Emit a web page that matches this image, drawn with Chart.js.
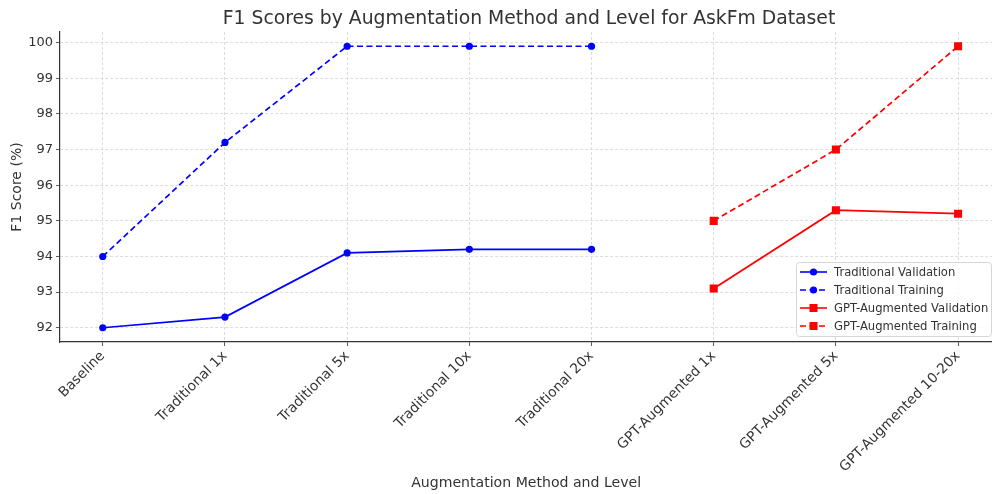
<!DOCTYPE html>
<html>
<head>
<meta charset="utf-8">
<script src="https://cdn.jsdelivr.net/npm/chart.js@4.4.0/dist/chart.umd.min.js"></script>
<style>
    html, body { margin: 0; padding: 0; background: #fff; overflow: hidden; }
    #wrap { width: 992px; height: 494px; overflow: hidden; }
</style>
</head>
<body>
<div id="wrap"><canvas id="f1Chart" width="998" height="494"></canvas></div>
<script>
// Dados
const categories = ['Baseline', 'Traditional 1x', 'Traditional 5x', 'Traditional 10x', 'Traditional 20x',
    'GPT-Augmented 1x', 'GPT-Augmented 5x', 'GPT-Augmented 10-20x'];
const tradValidation = [92.0, 92.3, 94.1, 94.2, 94.2, null, null, null];
const tradTraining = [94.0, 97.2, 99.9, 99.9, 99.9, null, null, null];
const gptValidation = [null, null, null, null, null, 93.1, 95.3, 95.2];
const gptTraining = [null, null, null, null, null, 95.0, 97.0, 99.9];
const yTicks = [92, 93, 94, 95, 96, 97, 98, 99, 100];
const chartTitle = 'F1 Scores by Augmentation Method and Level for AskFm Dataset';

function toPoints(values) {
    return values.map((y, i) => ({ x: i, y: y })).filter(p => p.y !== null);
}

Chart.defaults.font.family = "'DejaVu Sans', sans-serif";
Chart.defaults.color = '#333';

// Título centrado sobre a área do gráfico + legenda no canto inferior direito
const innerLegend = {
    id: 'innerLegend',
    afterDraw(chart) {
        const ctx = chart.ctx;
        const area = chart.chartArea;
        ctx.save();
        ctx.font = "18.8px 'DejaVu Sans'";
        ctx.fillStyle = '#333';
        ctx.textAlign = 'center';
        ctx.textBaseline = 'middle';
        ctx.fillText(chartTitle, 529, 19);

        const w = 195, h = 74;
        const left = 796;
        const top = area.bottom - h - 6;
        ctx.textAlign = 'left';
        ctx.fillStyle = 'rgba(255,255,255,0.85)';
        ctx.strokeStyle = '#d6d6d6';
        ctx.lineWidth = 1;
        ctx.beginPath();
        ctx.roundRect(left + 0.5, top + 0.5, w, h, 3);
        ctx.fill();
        ctx.stroke();
        ctx.font = "11.6px 'DejaVu Sans'";
        chart.data.datasets.forEach((ds, i) => {
            const y = top + 10 + i * 18;
            const x0 = left + 4;
            ctx.strokeStyle = ds.borderColor;
            ctx.lineWidth = 1.6;
            ctx.setLineDash(ds.borderDash || []);
            ctx.beginPath();
            ctx.moveTo(x0, y);
            ctx.lineTo(x0 + 27, y);
            ctx.stroke();
            ctx.setLineDash([]);
            ctx.fillStyle = ds.borderColor;
            if (ds.pointStyle === 'rect') {
                ctx.fillRect(x0 + 13.5 - 4, y - 4, 8, 8);
            } else {
                ctx.beginPath();
                ctx.arc(x0 + 13.5, y, 3.6, 0, Math.PI * 2);
                ctx.fill();
            }
            ctx.fillStyle = '#333';
            ctx.fillText(ds.label, x0 + 34, y + 0.5);
        });
        ctx.restore();
    }
};

const ctx = document.getElementById('f1Chart').getContext('2d');
new Chart(ctx, {
    type: 'line',
    data: {
        datasets: [
            {
                label: 'Traditional Validation',
                data: toPoints(tradValidation),
                borderColor: '#0000ff',
                backgroundColor: '#0000ff',
                borderWidth: 1.7,
                pointStyle: 'circle',
                pointRadius: 3.6,
                pointBorderWidth: 0
            },
            {
                label: 'Traditional Training',
                data: toPoints(tradTraining),
                borderColor: '#0000ff',
                backgroundColor: '#0000ff',
                borderWidth: 1.7,
                borderDash: [6, 3.5],
                pointStyle: 'circle',
                pointRadius: 3.6,
                pointBorderWidth: 0
            },
            {
                label: 'GPT-Augmented Validation',
                data: toPoints(gptValidation),
                borderColor: '#ff0000',
                backgroundColor: '#ff0000',
                borderWidth: 1.7,
                pointStyle: 'rect',
                pointRadius: 5.7,
                pointBorderWidth: 0
            },
            {
                label: 'GPT-Augmented Training',
                data: toPoints(gptTraining),
                borderColor: '#ff0000',
                backgroundColor: '#ff0000',
                borderWidth: 1.7,
                borderDash: [6, 3.5],
                pointStyle: 'rect',
                pointRadius: 5.7,
                pointBorderWidth: 0
            }
        ]
    },
    options: {
        responsive: false,
        animation: false,
        layout: { padding: { top: 32, right: 0, left: 0, bottom: 0 } },
        scales: {
            x: {
                type: 'linear',
                min: -0.35,
                max: 7.28,
                afterBuildTicks: (scale) => {
                    scale.ticks = categories.map((c, i) => ({ value: i }));
                },
                afterFit: (scale) => { scale.height = 152; },
                grid: { color: '#d4d4d4', lineWidth: 0.8, tickLength: 4, tickColor: '#333' },
                border: { color: '#333', width: 1.2, dash: [3, 2] },
                ticks: {
                    autoSkip: false,
                    minRotation: 45,
                    maxRotation: 45,
                    padding: 2,
                    font: { size: 13.8 },
                    color: '#333',
                    callback: (v) => categories[v]
                },
                title: {
                    display: true,
                    text: 'Augmentation Method and Level',
                    font: { size: 14.1 },
                    color: '#333',
                    padding: { top: 0, bottom: 2 }
                }
            },
            y: {
                min: 91.6,
                max: 100.3,
                afterBuildTicks: (scale) => {
                    scale.ticks = yTicks.map(v => ({ value: v }));
                },
                afterFit: (scale) => { scale.width = 60; },
                grid: { color: '#d4d4d4', lineWidth: 0.8, tickLength: 4, tickColor: '#333' },
                border: { color: '#333', width: 1.2, dash: [3, 2] },
                ticks: {
                    padding: 3,
                    font: { size: 13 },
                    color: '#333'
                },
                title: {
                    display: true,
                    text: 'F1 Score (%)',
                    font: { size: 14 },
                    color: '#333',
                    padding: { top: 9, bottom: 4 }
                }
            }
        },
        plugins: {
            legend: { display: false },
            tooltip: { enabled: false },
            title: { display: false }
        }
    },
    plugins: [innerLegend]
});
</script>
</body>
</html>
